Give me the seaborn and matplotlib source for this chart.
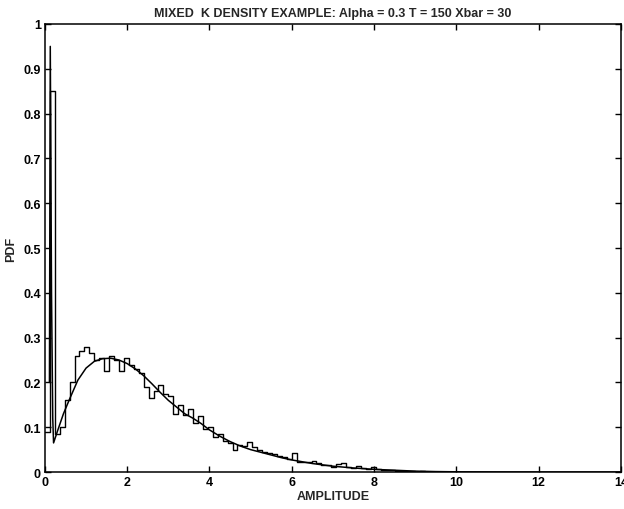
import numpy as np
import pandas as pd
import matplotlib
matplotlib.use("Agg")
import matplotlib.pyplot as plt
import seaborn as sns

# ---- data ----
bin_width = 0.12
hist_pdf = [
    0.09, 0.85, 0.085, 0.10, 0.16, 0.20, 0.26, 0.27, 0.28, 0.265,
    0.25, 0.255, 0.225, 0.26, 0.25, 0.225, 0.255, 0.238, 0.23, 0.22,
    0.19, 0.165, 0.18, 0.195, 0.175, 0.17, 0.13, 0.15, 0.128, 0.14,
    0.11, 0.125, 0.095, 0.10, 0.078, 0.085, 0.07, 0.065, 0.05, 0.06,
    0.058, 0.066, 0.055, 0.05, 0.045, 0.042, 0.04, 0.036, 0.034, 0.03,
    0.042, 0.022, 0.023, 0.022, 0.024, 0.02, 0.016, 0.015, 0.011, 0.018,
    0.02, 0.012, 0.008, 0.013, 0.008, 0.007, 0.011, 0.006, 0.005, 0.005,
    0.004, 0.003, 0.002, 0.003, 0.002, 0.001, 0.002, 0.001, 0.001, 0.001,
    0.0, 0.001, 0.0, 0.0,
]
curve_x = [0.11, 0.13, 0.16, 0.19, 0.21, 0.3, 0.45, 0.6, 0.8, 1.0, 1.2, 1.4, 1.6,
           1.8, 2.0, 2.2, 2.4, 2.6, 2.8, 3.0, 3.2, 3.4, 3.6, 3.8, 4.0, 4.25,
           4.5, 4.75, 5.0, 5.25, 5.5, 5.75, 6.0, 6.25, 6.5, 6.75, 7.0, 7.5,
           8.0, 8.5, 9.0, 9.5, 10.0, 11.0, 12.0, 14.0]
curve_y = [0.20, 0.95, 0.40, 0.12, 0.065, 0.09, 0.13, 0.163, 0.205, 0.232, 0.247,
           0.253, 0.254, 0.25, 0.242, 0.23, 0.215, 0.197, 0.178, 0.16, 0.145,
           0.13, 0.12, 0.108, 0.094, 0.08, 0.068, 0.058, 0.05, 0.044, 0.038,
           0.032, 0.027, 0.023, 0.019, 0.016, 0.013, 0.009, 0.006, 0.004,
           0.002, 0.001, 0.0005, 0.0001, 0.0, 0.0]
x_ticks = [0, 2, 4, 6, 8, 10, 12, 14]
y_ticks = [0, 0.1, 0.2, 0.3, 0.4, 0.5, 0.6, 0.7, 0.8, 0.9, 1]
y_tick_labels = ["0", "0.1", "0.2", "0.3", "0.4", "0.5", "0.6", "0.7", "0.8", "0.9", "1"]
title = "MIXED  K DENSITY EXAMPLE: Alpha = 0.3 T = 150 Xbar = 30"

# ---- style ----
sns.set_theme(style="ticks")
plt.rcParams["font.family"] = ["Liberation Sans Narrow", "Liberation Sans", "DejaVu Sans"]
plt.rcParams["font.weight"] = "bold"

n_bins = len(hist_pdf)
centers = (np.arange(n_bins) + 0.5) * bin_width
hist_df = pd.DataFrame({"amp": centers, "pdf": hist_pdf})
curve_df = pd.DataFrame({"amp": curve_x, "pdf": curve_y})

fig = plt.figure(figsize=(6.24, 5.10), dpi=100)
ax = fig.add_axes([0.072, 0.0725, 0.923, 0.8785])

sns.histplot(data=hist_df, x="amp", weights="pdf", binwidth=bin_width,
             binrange=(0, n_bins * bin_width), element="step",
             fill=False, color="black", linewidth=1.0, stat="count", ax=ax)
sns.lineplot(data=curve_df, x="amp", y="pdf", color="black", linewidth=1.1,
             ax=ax, sort=False)

ax.set_xlim(0, 14)
ax.set_ylim(0, 1)
ax.set_xticks(x_ticks)
ax.set_xticklabels([str(t) for t in x_ticks], fontsize=9, fontweight="bold")
ax.set_yticks(y_ticks)
ax.set_yticklabels(y_tick_labels, fontsize=9, fontweight="bold")
ax.tick_params(direction="in", length=4, width=1, top=True, right=True, pad=3, colors="black")
for s in ax.spines.values():
    s.set_visible(True)
    s.set_color("black")
    s.set_linewidth(1.1)
ax.set_xlabel("AMPLITUDE", fontsize=9, fontweight="bold", labelpad=1)
ax.set_ylabel("PDF", fontsize=9, fontweight="bold", labelpad=4)
ax.set_title(title, fontsize=9, fontweight="bold", pad=6)

fig.savefig("out.png", dpi=100, facecolor="white")
